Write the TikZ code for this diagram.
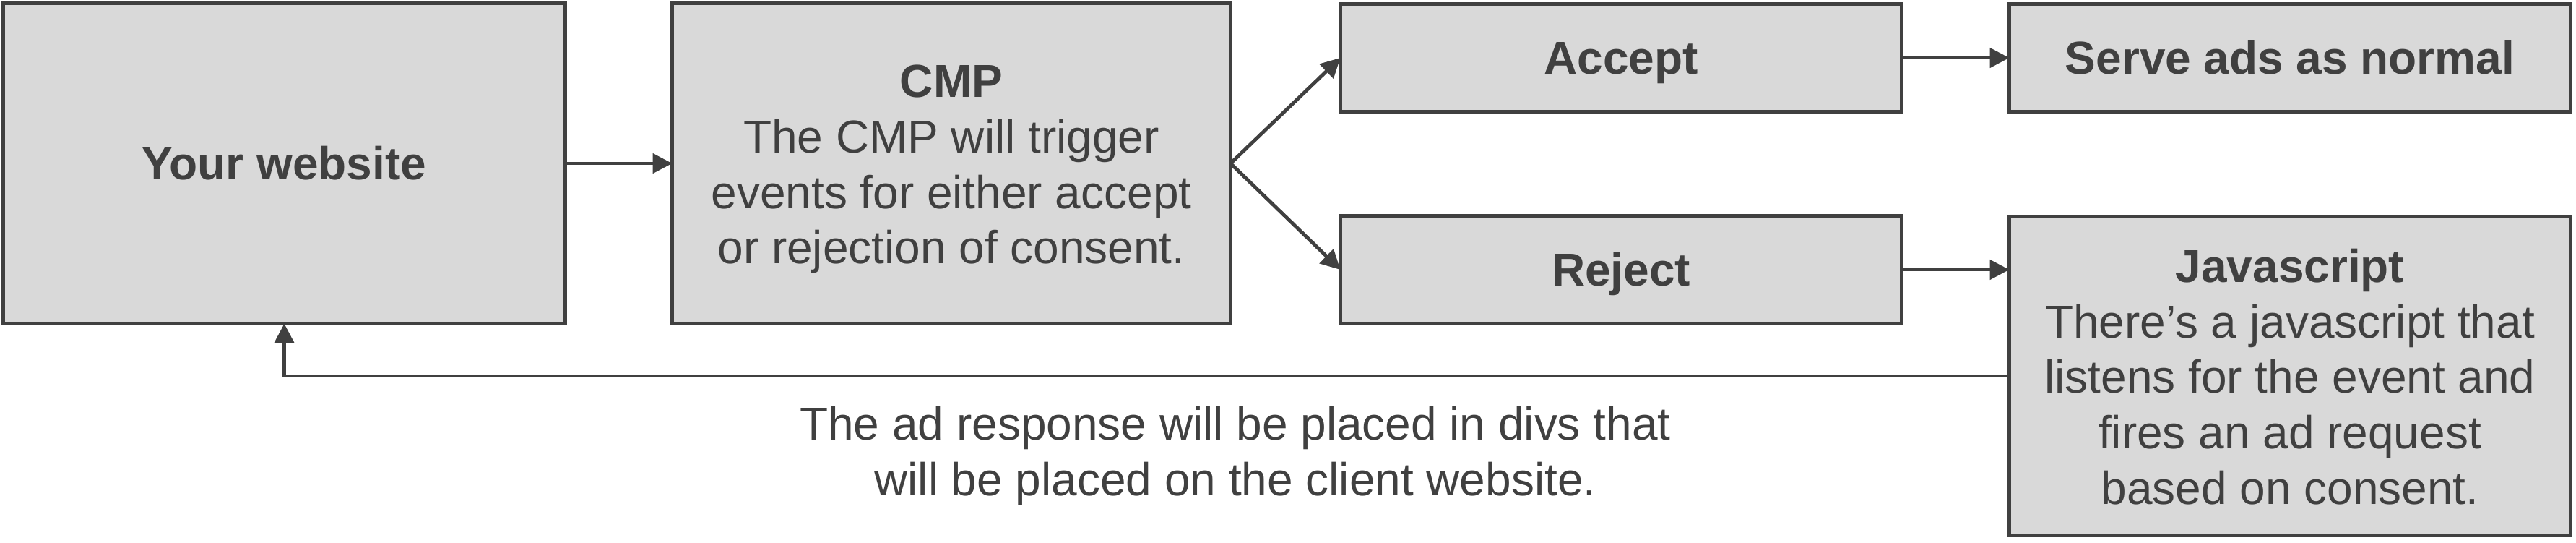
\documentclass[tikz,border=0pt]{standalone}
\usepackage{fontspec}
\setmainfont{Liberation Sans}
\usetikzlibrary{arrows.meta}
\definecolor{boxfill}{HTML}{D9D9D9}
\definecolor{darkline}{HTML}{404040}
\newcommand{\ppstrut}{\rule[-0.212em]{0pt}{1.117em}}
\newcommand{\topstrut}{\rule{0pt}{0.96em}}
\tikzset{
  slidetext/.style={text=darkline, align=center,
    font=\fontsize{18.2}{21.8}\selectfont,
    execute at begin node=\ppstrut, execute at end node=\ppstrut},
  block/.style={slidetext, draw=darkline, fill=boxfill, line width=1.4pt,
    inner sep=0pt, outer sep=0pt},
  arr/.style={draw=darkline, line width=1.4pt,
    -{Triangle[length=0.27cm,width=0.27cm]}},
}
\begin{document}
\begin{tikzpicture}
            \useasboundingbox (0,0) rectangle (35.66,7.5);
            \node[block, minimum width=7.78cm, minimum height=4.43cm] (web) at (3.935,5.24) {\textbf{Your website}};
            \node[block, minimum width=7.73cm, minimum height=4.43cm] (cmp) at (13.17,5.24) {\topstrut\textbf{CMP}\\The CMP will trigger\\events for either accept\\or rejection of consent.};
            \node[block, minimum width=7.77cm, minimum height=1.49cm] (accept) at (22.44,6.70) {\textbf{Accept}};
            \node[block, minimum width=7.77cm, minimum height=1.49cm] (reject) at (22.44,3.77) {\textbf{Reject}};
            \node[block, minimum width=7.77cm, minimum height=1.49cm] (serve) at (31.70,6.70) {\textbf{Serve ads as normal}};
            \node[block, minimum width=7.77cm, minimum height=4.41cm] (js) at (31.70,2.30) {\topstrut\textbf{Javascript}\\There’s a javascript that\\listens for the event and\\fires an ad request\\based on consent.};
            \node[slidetext] (note) at (17.10,1.27) {\topstrut The ad response will be placed in divs that\\will be placed on the client website.};
            \draw[arr] (web.east) -- (cmp.west);
            \draw[arr] (cmp.east) -- (accept.west);
            \draw[arr] (cmp.east) -- (reject.west);
            \draw[arr] (accept.east) -- (serve.west);
            \draw[arr] (reject.east) -- (reject.east -| js.west);
            \draw[arr] (js.west) -| (web.south);
        \end{tikzpicture}
\end{document}
